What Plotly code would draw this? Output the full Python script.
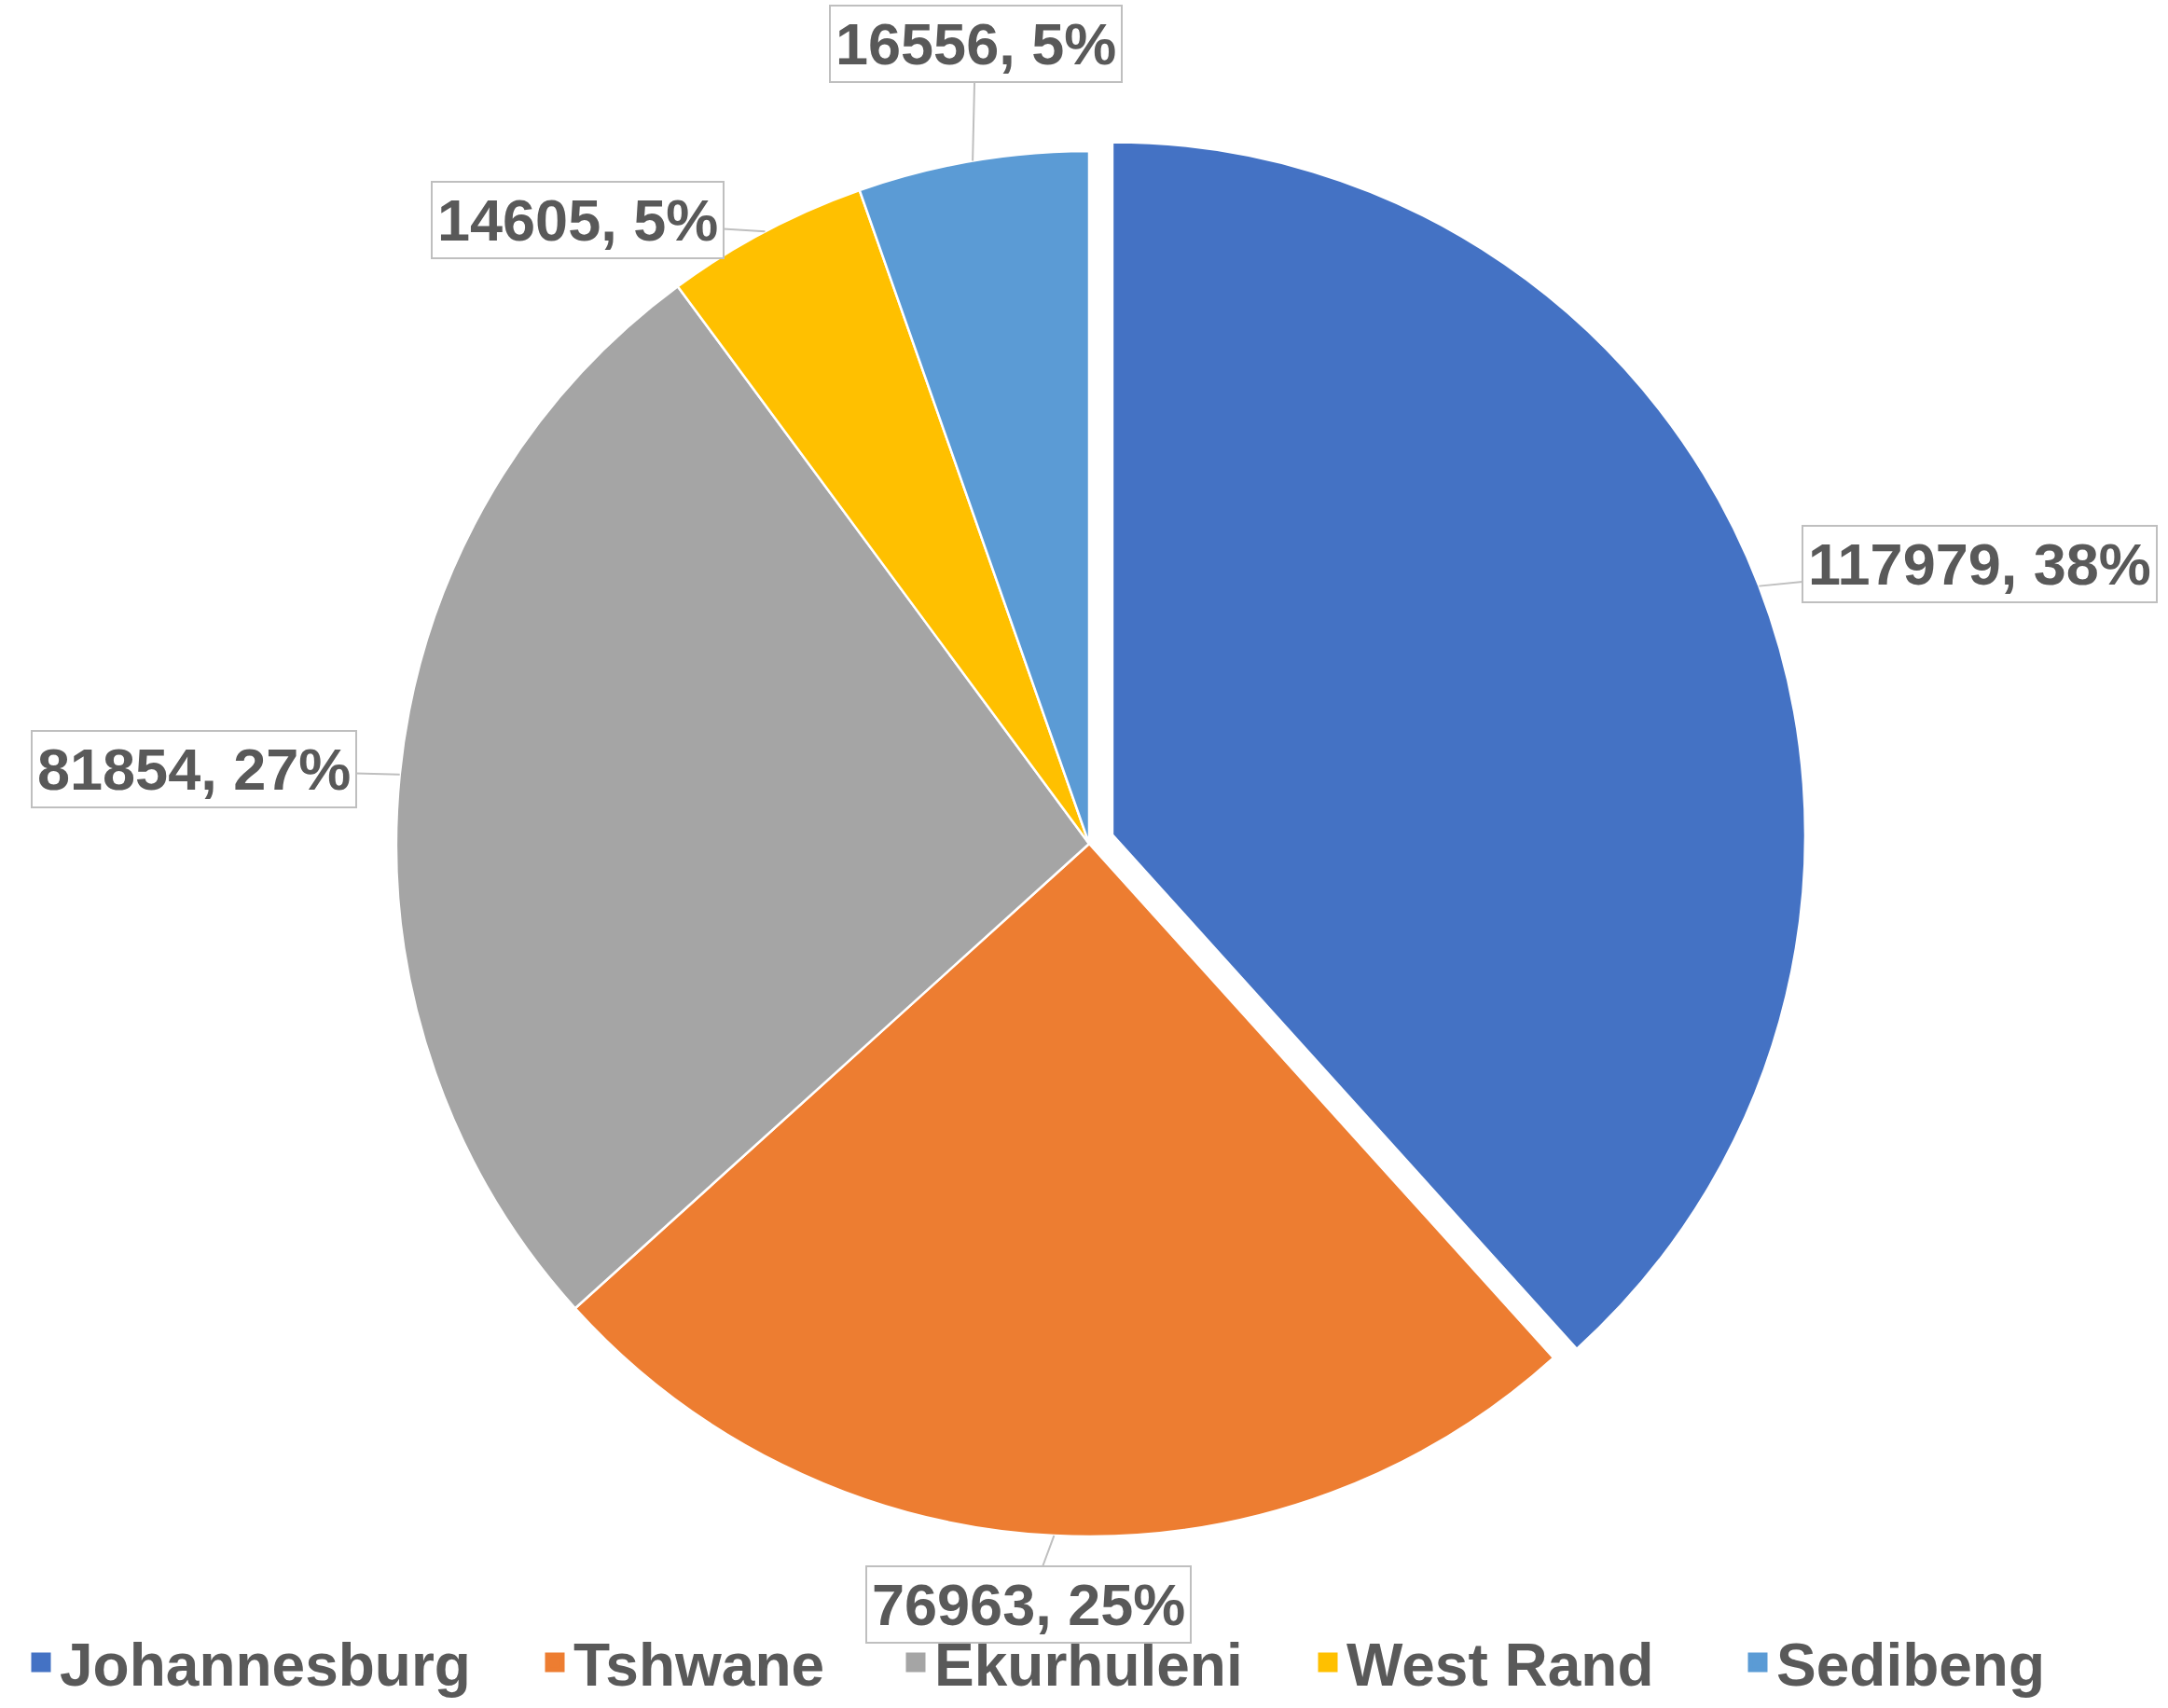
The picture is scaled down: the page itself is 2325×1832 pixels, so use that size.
import math
import plotly.graph_objects as go

# ---- data ----
districts = ["Johannesburg", "Tshwane", "Ekurhuleni", "West Rand", "Sedibeng"]
counts = [117979, 76963, 81854, 14605, 16556]
colors = ["#4472C4", "#ED7D31", "#A5A5A5", "#FFC000", "#5B9BD5"]
pulls = [0.036, 0, 0, 0, 0]

# ---- layout constants ----
W, H = 2325, 1832
CX, CY, R = 1168, 905, 743          # pie centre / radius in px
# label box centres (px, from top-left)
label_pos = [(2123, 605), (1103, 1721), (208, 825), (619, 236), (1046, 47)]
# legend text start positions (px)
legend_text_x = [67, 618, 1005, 1447, 1908]

max_pull = max(pulls)
dom_h = 2 * R * (1 + max_pull)
y_mid = H - CY
dom_y = [(y_mid - dom_h / 2) / H, (y_mid + dom_h / 2) / H]
x_mid = CX / W
dom_x = [x_mid - 0.45, x_mid + 0.45]

fig = go.Figure()
fig.add_trace(go.Pie(
    labels=districts, values=counts, sort=False, direction="clockwise",
    rotation=0, pull=pulls, textinfo="none", hoverinfo="label+value+percent",
    marker=dict(colors=colors, line=dict(color="white", width=2.5)),
    domain=dict(x=dom_x, y=dom_y), showlegend=False,
))

legend_font = dict(family="Liberation Sans, Arial", size=64, color="#595959", weight="bold")
legends = {}
for i, (name, col) in enumerate(zip(districts, colors)):
    key = "legend" if i == 0 else f"legend{i + 1}"
    fig.add_trace(go.Scatter(
        x=[None], y=[None], mode="markers", name=name, legend=key,
        marker=dict(symbol="square", size=16, color=col, line=dict(color=col, width=5)),
        hoverinfo="skip", showlegend=True,
    ))
    legends[key] = dict(
        orientation="h", x=(legend_text_x[i] - 43) / W, xanchor="left",
        y=0, yanchor="bottom", font=legend_font,
        bgcolor="rgba(0,0,0,0)", itemwidth=30,
    )

total = sum(counts)
annotations = []
cum = 0
for name, v, p, (bx, by) in zip(districts, counts, pulls, label_pos):
    mid = (cum + v / 2) / total * 2 * math.pi
    cum += v
    rr = R * (1 + p)
    tx = CX + rr * math.sin(mid)
    ty = CY - rr * math.cos(mid)
    pct = round(v / total * 100)
    annotations.append(dict(
        x=tx / W, y=1 - ty / H, xref="paper", yref="paper",
        ax=bx - tx, ay=by - ty, axref="pixel", ayref="pixel",
        text=f"{v}, {pct}%", showarrow=True, arrowhead=0,
        arrowcolor="#BFBFBF", arrowwidth=2,
        bgcolor="white", bordercolor="#BFBFBF", borderwidth=2, borderpad=5,
        font=dict(family="Liberation Sans, Arial", size=63, color="#595959", weight="bold"),
    ))

fig.update_layout(
    width=W, height=H, margin=dict(l=0, r=0, t=0, b=0),
    paper_bgcolor="white", plot_bgcolor="white",
    annotations=annotations,
    xaxis=dict(visible=False), yaxis=dict(visible=False),
    **legends,
)

fig.write_html("out.html")
